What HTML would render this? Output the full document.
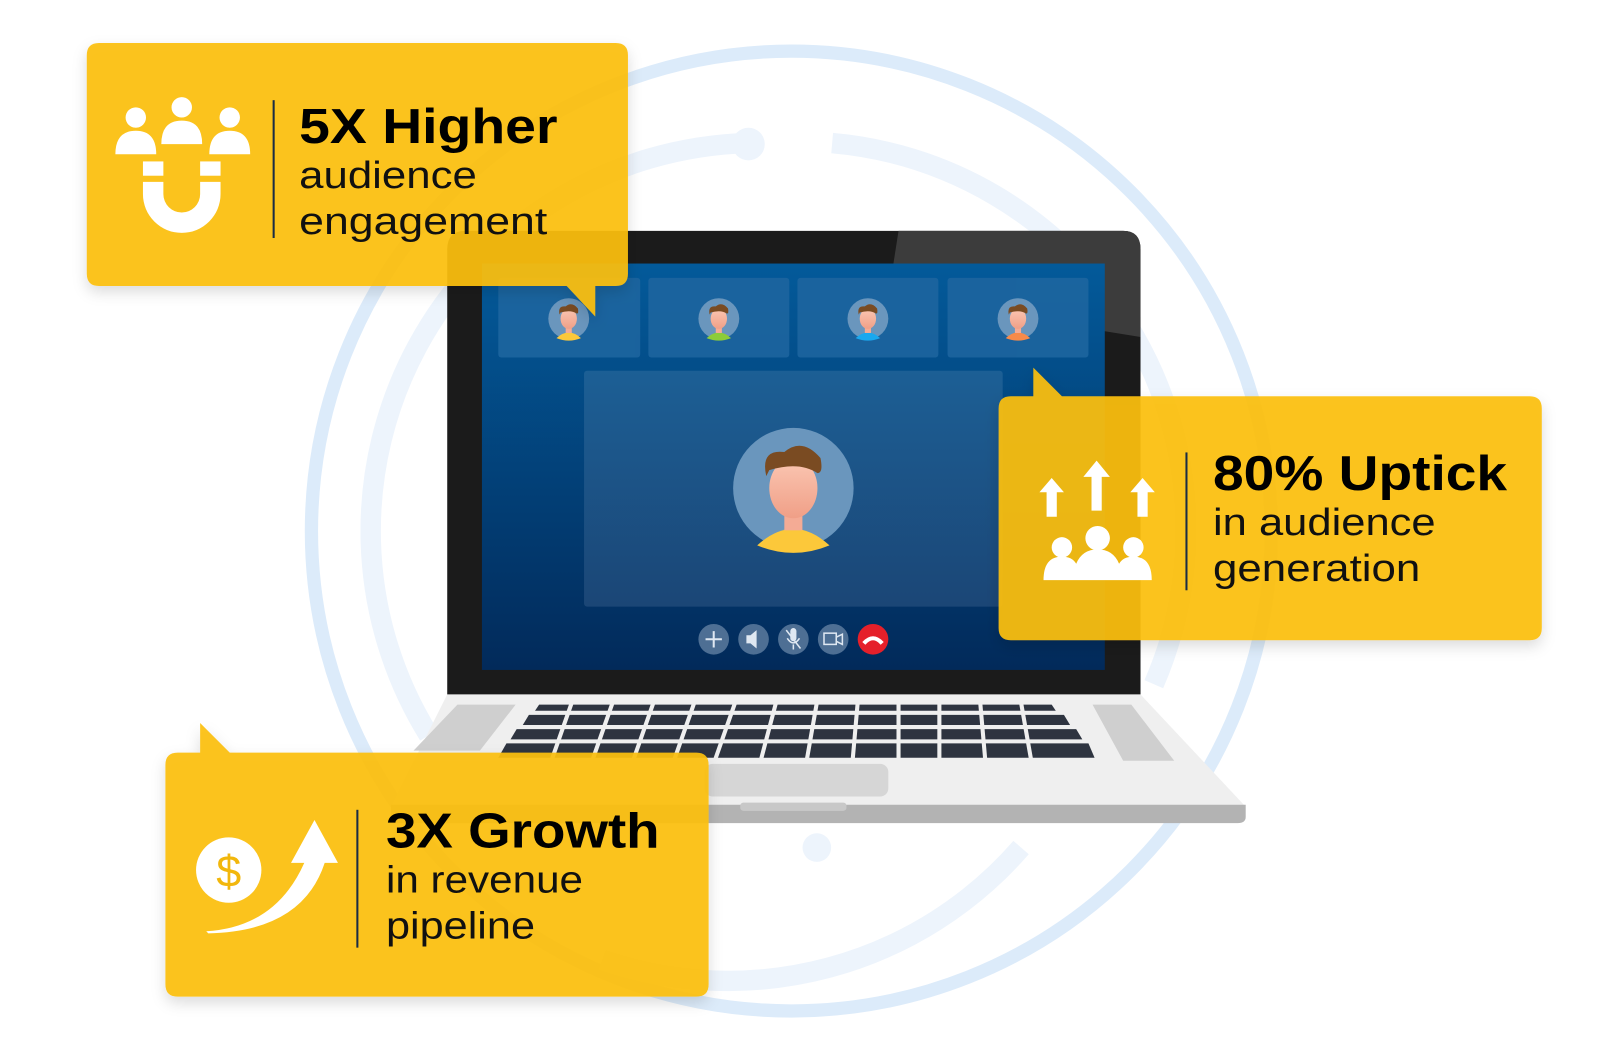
<!DOCTYPE html>
<html><head><meta charset="utf-8"><style>
html,body{margin:0;padding:0;background:#fff;width:1600px;height:1057px;overflow:hidden}
svg{display:block}
text{font-family:"Liberation Sans",sans-serif}
</style></head><body>
<svg width="1600" height="1057" viewBox="0 0 1567 1035" xmlns="http://www.w3.org/2000/svg">
<defs>
<linearGradient id="scr" x1="0" y1="0" x2="0" y2="1"><stop offset="0" stop-color="#035a9a"/><stop offset="1" stop-color="#022a5a"/></linearGradient>
<linearGradient id="pan" x1="0" y1="0" x2="0" y2="1"><stop offset="0" stop-color="#1c5f95"/><stop offset="1" stop-color="#1b4676"/></linearGradient>
<linearGradient id="face" x1="0" y1="0" x2="0" y2="1"><stop offset="0" stop-color="#fbc7b3"/><stop offset="1" stop-color="#f09f87"/></linearGradient>
<filter id="sh" x="-10%" y="-10%" width="120%" height="130%"><feDropShadow dx="0" dy="6" stdDeviation="7" flood-color="#000" flood-opacity="0.15"/></filter>
<g id="av">
<circle cx="0" cy="0" r="20" fill="#6a96bd"/>
<path d="M-12 19 Q0 8 12 19 Q0 24 -12 19Z" fill="currentColor"/>
<rect x="-3" y="6" width="6" height="8" fill="#f4ab95"/>
<ellipse cx="0" cy="0" rx="8" ry="10" fill="url(#face)"/>
<path d="M-9 -4 Q-11 -13 -3 -12 Q3 -17 9 -10 Q10 -5 8 -5 Q2 -9 -8 -6Z" fill="#7a4b22"/>
</g>
</defs>
<!-- rings -->
<circle cx="775" cy="520" r="470" fill="none" stroke="#dcebfa" stroke-width="13"/>
<path d="M733 140 A380 380 0 0 0 420 720" fill="none" stroke="#edf4fc" stroke-width="20"/>
<path d="M815 140 A380 380 0 0 1 1130 670" fill="none" stroke="#edf4fc" stroke-width="20"/>
<path d="M590 940 A380 380 0 0 0 1000 830" fill="none" stroke="#edf4fc" stroke-width="20"/>
<circle cx="733" cy="141" r="16" fill="#edf4fc"/>
<circle cx="800" cy="830" r="14" fill="#edf4fc"/>
<!-- laptop base -->
<path d="M438 680 L1117 680 L1220 790 L383 790Z" fill="#efefef"/>
<path d="M383 788 L1220 788 L1220 800 Q1220 806 1212 806 L392 806 Q383 806 383 798Z" fill="#b3b3b3"/>
<path d="M405 735 L448 690 L505 690 L470 735Z" fill="#cfcfcf"/>
<path d="M1070 690 L1108 690 L1150 745 L1100 745Z" fill="#cfcfcf"/>
<rect x="690" y="748" width="180" height="32" rx="8" fill="#d6d6d6"/>
<rect x="725" y="786" width="104" height="8" rx="3" fill="#c8c8c8"/>
<g fill="#2e3440">
<path d="M528 690 L1030 690 L1034 696 L524 696Z"/>
<path d="M518 700 L1042 700 L1048 710 L512 710Z"/>
<path d="M506 714 L1054 714 L1060 724 L500 724Z"/>
<path d="M496 728 L1066 728 L1072 742 L488 742Z"/>
</g>
<g stroke="#efefef" stroke-width="4">
<path d="M560 688 L540 745 M600 688 L580 745 M640 688 L620 745 M680 688 L660 745 M720 688 L700 745 M760 688 L745 745 M800 688 L790 745 M840 688 L835 745 M880 688 L880 745 M920 688 L920 745 M960 688 L965 745 M1000 688 L1010 745"/>
</g>
<!-- lid -->
<path d="M438 244 Q438 226 456 226 L1100 226 Q1117 226 1117 244 L1117 680 L438 680Z" fill="#1b1b1b"/>
<path d="M880 226 L1100 226 Q1117 226 1117 244 L1117 330 L870 290Z" fill="#3c3c3c"/>
<rect x="472" y="258" width="610" height="398" fill="url(#scr)"/>
<g fill="#1f66a0" opacity="0.85">
<rect x="488" y="272" width="139" height="78" rx="3"/>
<rect x="635" y="272" width="138" height="78" rx="3"/>
<rect x="781" y="272" width="138" height="78" rx="3"/>
<rect x="928" y="272" width="138" height="78" rx="3"/>
</g>
<rect x="572" y="363" width="410" height="231" rx="3" fill="url(#pan)"/>
<use href="#av" x="557" y="312" color="#fcc83a"/>
<use href="#av" x="704" y="312" color="#8dcc3a"/>
<use href="#av" x="850" y="312" color="#1aa8ef"/>
<use href="#av" x="997" y="312" color="#f78a4a"/>
<g transform="translate(777,478) scale(2.95)"><use href="#av" color="#fcc83a"/></g>
<g>
<circle cx="699" cy="626" r="15" fill="#4e6f94"/><path d="M691 626h16M699 618v16" stroke="#dfe8f2" stroke-width="2"/>
<circle cx="738" cy="626" r="15" fill="#4e6f94"/><path d="M731 622h4l6-5v18l-6-5h-4z" fill="#dfe8f2"/>
<circle cx="777" cy="626" r="15" fill="#4e6f94"/><rect x="774" y="615" width="6" height="13" rx="3" fill="#dfe8f2"/><path d="M771 625q6 9 12 0M777 631v5M770 617l14 18" stroke="#dfe8f2" stroke-width="1.5" fill="none"/>
<circle cx="816" cy="626" r="15" fill="#4e6f94"/><rect x="807" y="620" width="12" height="11" fill="none" stroke="#dfe8f2" stroke-width="1.5"/><path d="M819 624l6-3v10l-6-3" fill="none" stroke="#dfe8f2" stroke-width="1.5"/>
<circle cx="855" cy="626" r="15" fill="#e5202a"/><path d="M846 630q9-10 18 0" stroke="#fff" stroke-width="4" fill="none"/>
</g>
<!-- card 1 -->
<g filter="url(#sh)" fill="#fcc010" fill-opacity="0.93">
<path d="M97 42 L603 42 Q615 42 615 54 L615 268 Q615 280 603 280 L583 280 L583 310 L555 280 L97 280 Q85 280 85 268 L85 54 Q85 42 97 42Z"/>
</g>
<g fill="#fff">
<circle cx="133" cy="115" r="10"/><path d="M113 151 Q113 128 133 128 Q153 128 153 151Z"/>
<circle cx="178" cy="105" r="10"/><path d="M158 141 Q158 118 178 118 Q198 118 198 141Z"/>
<circle cx="225" cy="115" r="10"/><path d="M205 151 Q205 128 225 128 Q245 128 245 151Z"/>
<rect x="140" y="158" width="20" height="14"/><rect x="196" y="158" width="20" height="14"/>
<path d="M140 178 L160 178 L160 190 A18 18 0 0 0 196 190 L196 178 L216 178 L216 190 A38 38 0 0 1 140 190Z"/>
</g>
<rect x="267" y="98" width="2" height="135" fill="#1a2c44"/>
<text x="293" y="140" font-size="48" font-weight="bold" fill="#000" textLength="253" lengthAdjust="spacingAndGlyphs">5X Higher</text>
<text x="293" y="184" font-size="37" fill="#111" textLength="174" lengthAdjust="spacingAndGlyphs">audience</text>
<text x="293" y="229" font-size="37" fill="#111" textLength="243" lengthAdjust="spacingAndGlyphs">engagement</text>
<!-- card 2 -->
<g filter="url(#sh)" fill="#fcc010" fill-opacity="0.93">
<path d="M990 388 L1012 388 L1012 360 L1040 388 L1498 388 Q1510 388 1510 400 L1510 615 Q1510 627 1498 627 L990 627 Q978 627 978 615 L978 400 Q978 388 990 388Z"/>
</g>
<g fill="#fff">
<path d="M1030 468 L1042 482 L1035 482 L1035 506 L1025 506 L1025 482 L1018 482Z"/>
<path d="M1074 451 L1087 467 L1079 467 L1079 500 L1069 500 L1069 467 L1061 467Z"/>
<path d="M1119 468 L1131 482 L1124 482 L1124 506 L1114 506 L1114 482 L1107 482Z"/>
<circle cx="1040" cy="536" r="10"/><circle cx="1075" cy="527" r="12"/><circle cx="1110" cy="536" r="10"/>
<path d="M1022 568 Q1022 545 1040 545 Q1050 545 1054 552 Q1060 538 1075 538 Q1090 538 1096 552 Q1100 545 1110 545 Q1128 545 1128 568Z"/>
</g>
<rect x="1161" y="443" width="2" height="135" fill="#1a2c44"/>
<text x="1188" y="480" font-size="48" font-weight="bold" fill="#000" textLength="288" lengthAdjust="spacingAndGlyphs">80% Uptick</text>
<text x="1188" y="524" font-size="37" fill="#111" textLength="218" lengthAdjust="spacingAndGlyphs">in audience</text>
<text x="1188" y="569" font-size="37" fill="#111" textLength="203" lengthAdjust="spacingAndGlyphs">generation</text>
<!-- card 3 -->
<g filter="url(#sh)" fill="#fcc010" fill-opacity="0.93">
<path d="M174 737 L196 737 L196 708 L225 737 L682 737 Q694 737 694 749 L694 964 Q694 976 682 976 L174 976 Q162 976 162 964 L162 749 Q162 737 174 737Z"/>
</g>
<g fill="#fff">
<circle cx="224" cy="852" r="32"/>
<path d="M202 912 Q270 908 298 845 L285 845 L308 803 L331 845 L318 845 Q296 912 204 914Z"/>
</g>
<text x="224" y="868" font-size="44" fill="#f2b70c" text-anchor="middle">$</text>
<rect x="349" y="793" width="2" height="135" fill="#1a2c44"/>
<text x="378" y="830" font-size="48" font-weight="bold" fill="#000" textLength="268" lengthAdjust="spacingAndGlyphs">3X Growth</text>
<text x="378" y="874" font-size="37" fill="#111" textLength="193" lengthAdjust="spacingAndGlyphs">in revenue</text>
<text x="378" y="919" font-size="37" fill="#111" textLength="146" lengthAdjust="spacingAndGlyphs">pipeline</text>
</svg>
</body></html>
